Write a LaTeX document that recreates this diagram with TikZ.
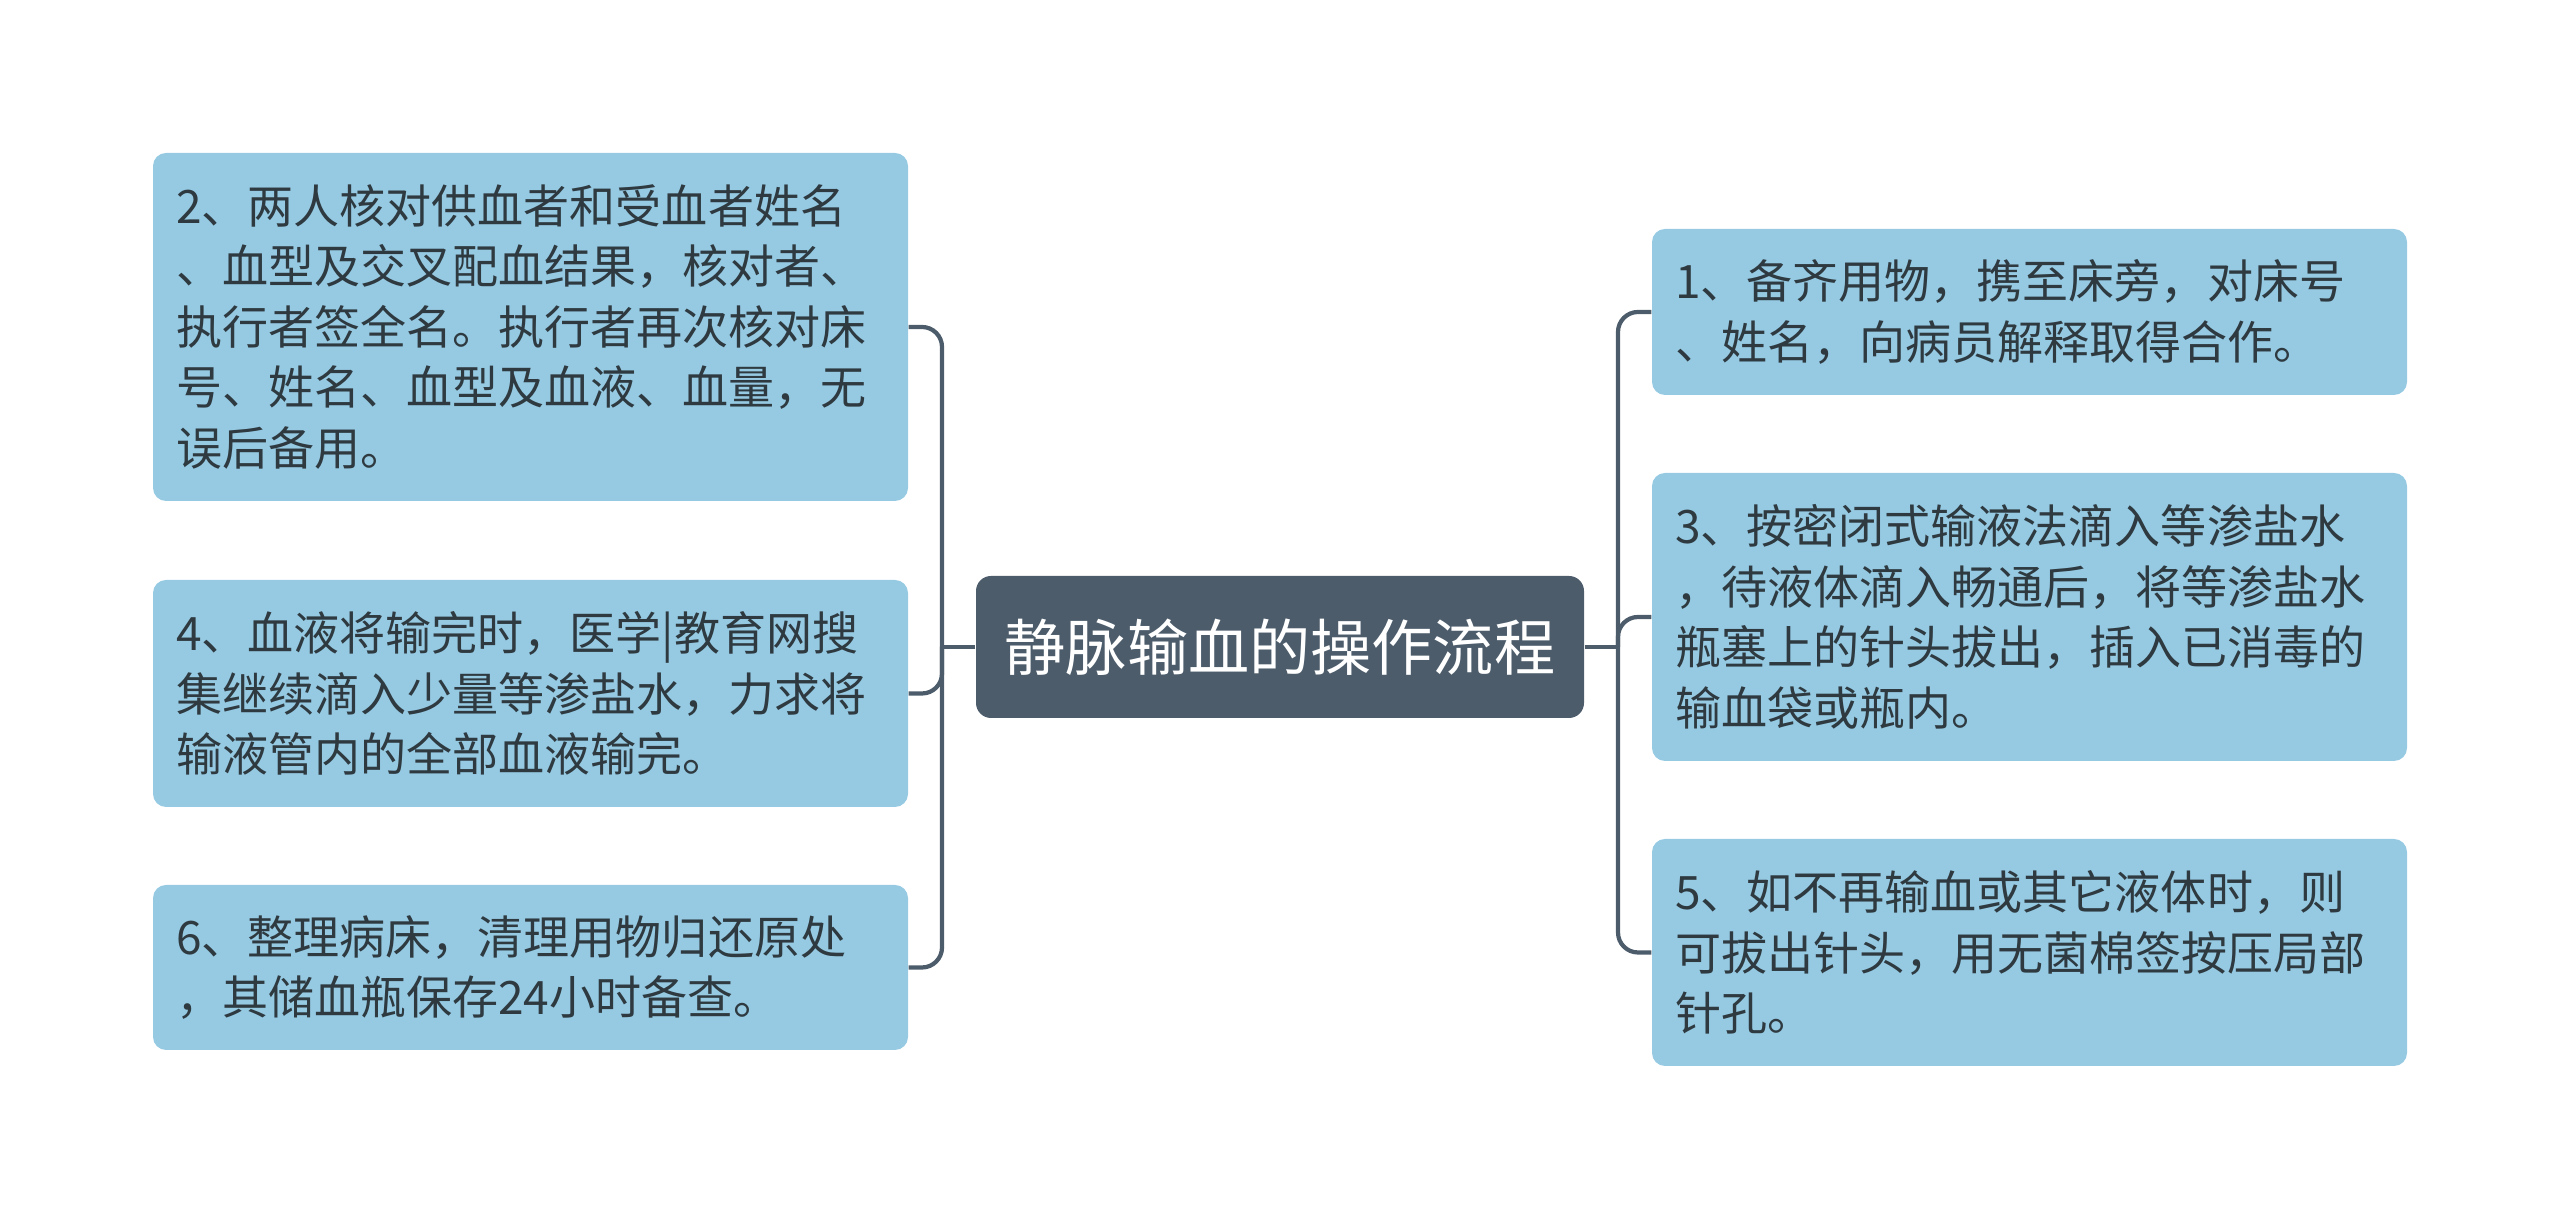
\documentclass[tikz,border=0pt]{standalone}
\usepackage{fontspec}
\setmainfont{Noto Sans CJK SC}
\usepackage{xcolor}
\usepackage{tikz}
\usetikzlibrary{positioning}

\definecolor{boxblue}{HTML}{96CAE3}
\definecolor{rootgray}{HTML}{4C5C6B}
\definecolor{txtdark}{HTML}{2E3A40}

\tikzset{
  leafbox/.style={fill=boxblue, rounded corners=0.13cm, text=txtdark, align=left,
    text width=7.09cm, inner xsep=0.23cm, inner ysep=0pt,
    font=\fontsize{13.1}{17.2}\selectfont},
  rootbox/.style={fill=rootgray, rounded corners=0.15cm, text=white, align=center,
    minimum width=6.08cm, minimum height=1.42cm, inner sep=0pt,
    font=\fontsize{17.4}{20}\selectfont},
  link/.style={draw=rootgray, line width=1.2pt, rounded corners=0.2cm}
}

\begin{document}
\begin{tikzpicture}
    \useasboundingbox (0,0) rectangle (25.6,12.19);

    % Chủ đề trung tâm
    \node[rootbox] (root) at (12.8,5.72) {静脉输血的操作流程};

    % Các nhánh bên trái
    \node[leafbox, minimum height=3.48cm] (b2) at (5.305,8.92)
        {2、两人核对供血者和受血者姓名\\、血型及交叉配血结果，核对者、\\执行者签全名。执行者再次核对床\\号、姓名、血型及血液、血量，无\\误后备用。};
    \node[leafbox, minimum height=2.27cm] (b4) at (5.305,5.255)
        {4、血液将输完时，医学|教育网搜\\集继续滴入少量等渗盐水，力求将\\输液管内的全部血液输完。};
    \node[leafbox, minimum height=1.65cm] (b6) at (5.305,2.515)
        {6、整理病床，清理用物归还原处\\，其储血瓶保存24小时备查。};

    % Các nhánh bên phải
    \node[leafbox, minimum height=1.66cm] (b1) at (20.295,9.07)
        {1、备齐用物，携至床旁，对床号\\、姓名，向病员解释取得合作。};
    \node[leafbox, minimum height=2.88cm] (b3) at (20.295,6.02)
        {3、按密闭式输液法滴入等渗盐水\\，待液体滴入畅通后，将等渗盐水\\瓶塞上的针头拔出，插入已消毒的\\输血袋或瓶内。};
    \node[leafbox, minimum height=2.27cm] (b5) at (20.295,2.665)
        {5、如不再输血或其它液体时，则\\可拔出针头，用无菌棉签按压局部\\针孔。};

    % Đường nối
    \coordinate (lt) at (9.42,5.72);
    \coordinate (rt) at (16.18,5.72);
    \draw[link] (root.west) -- (lt);
    \draw[link] (root.east) -- (rt);
    \draw[link] (lt) |- (b2.east);
    \draw[link] (lt) |- (b4.east);
    \draw[link] (lt) |- (b6.east);
    \draw[link] (rt) |- (b1.west);
    \draw[link] (rt) |- (b3.west);
    \draw[link] (rt) |- (b5.west);

\end{tikzpicture}
\end{document}
